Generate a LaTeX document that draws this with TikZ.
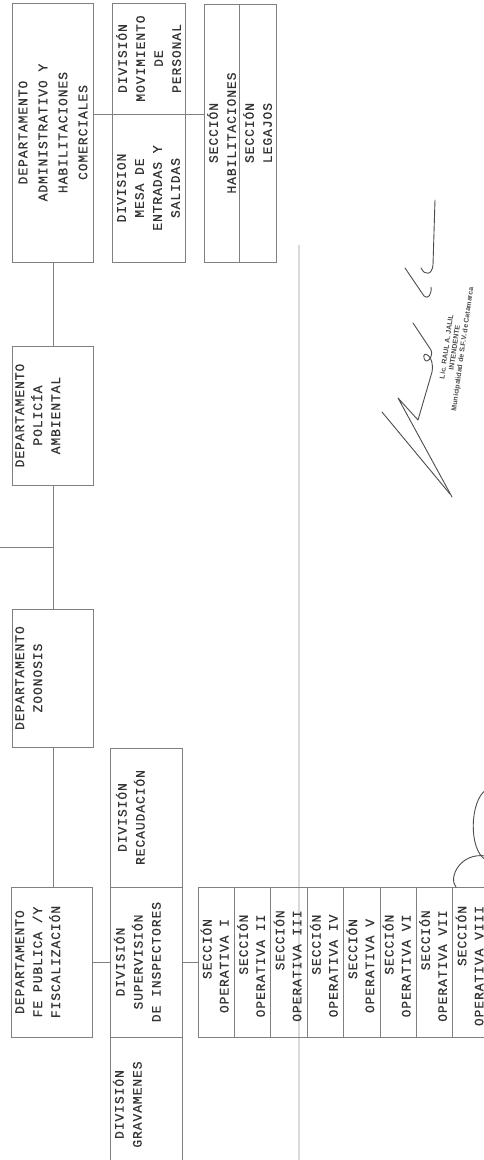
\documentclass[tikz,border=0pt]{standalone}
\usepackage{fontspec}
\newfontfamily\typewriter{Liberation Mono}[LetterSpace=7, FakeBold=0.5]
\newfontfamily\stampfont{Liberation Sans}

\begin{document}
\begin{tikzpicture}[
    x=1pt, y=1pt,
    unit/.style={
        rectangle,
        draw=black!50,
        line width=0.7pt,
        inner sep=0pt
    },
    boxtext/.style={
        rotate=90,
        align=center,
        inner sep=0pt,
        text=black!80,
        font=\typewriter\fontsize{13}{18}\selectfont
    },
    link/.style={draw=black!50, line width=0.7pt},
    rule/.style={draw=black!15, line width=1.3pt},
    sign/.style={draw=black!70, line width=0.9pt, line cap=round, line join=round}
]

\useasboundingbox (0,0) rectangle (484,-1160);
\clip (0,0) rectangle (484,-1160);

% Margen
\coordinate (ruletop) at (299,-245);
\draw[rule] (ruletop) -- (ruletop |- 0,-1160);

% Departamentos
\node[unit, minimum width=81pt, minimum height=259pt] (adm) at (53,-132.5) {};
\node[unit, minimum width=81pt, minimum height=139pt] (pol) at (53,-415.5) {};
\node[unit, minimum width=81pt, minimum height=138pt] (zoo) at (53,-678) {};
\node[unit, minimum width=81pt, minimum height=150pt] (fe) at (52,-962) {};

\node[boxtext, font=\typewriter\fontsize{13}{20}\selectfont] (admtxt) at (adm.center)
    {DEPARTAMENTO\\ADMINISTRATIVO Y\\HABILITACIONES\\COMERCIALES};
\node[boxtext, anchor=north] (poltxt) at ([xshift=3pt]pol.west) {DEPARTAMENTO\\POLICÍA\\AMBIENTAL};
\node[boxtext, anchor=north] (zootxt) at ([xshift=3pt]zoo.west) {DEPARTAMENTO\\ZOONOSIS};
\node[boxtext, anchor=north] (fetxt) at ([xshift=4pt]fe.west) {DEPARTAMENTO\\FE PUBLICA /Y\\FISCALIZACIÓN};

% Divisiones bajo administrativo
\node[unit, minimum width=73pt, minimum height=111pt] (mov) at (148.5,-58.5) {};
\node[unit, minimum width=73pt, minimum height=148pt] (mesa) at (148.5,-188) {};
\node[boxtext] (movtxt) at (mov.center) {DIVISIÓN\\MOVIMIENTO\\DE\\PERSONAL};
\node[boxtext] (mesatxt) at (mesa.center) {DIVISION\\MESA DE\\ENTRADAS Y\\SALIDAS};

% Secciones
\node[unit, minimum width=35pt, minimum height=258pt] (hab) at (221.5,-133) {};
\node[unit, minimum width=37pt, minimum height=258pt] (leg) at (257.5,-133) {};
\node[boxtext] (habtxt) at (hab.center) {SECCIÓN\\HABILITACIONES};
\node[boxtext] (legtxt) at (leg.center) {SECCIÓN\\LEGAJOS};

% Divisiones bajo fe publica
\node[unit, minimum width=72pt, minimum height=139pt] (rec) at (146,-817.5) {};
\node[unit, minimum width=72pt, minimum height=150pt] (sup) at (146,-962) {};
\node[unit, minimum width=72pt, minimum height=135pt] (grav) at (146,-1104.5) {};
\node[boxtext, anchor=north] (rectxt) at ([xshift=6pt]rec.west) {DIVISIÓN\\RECAUDACIÓN};
\node[boxtext, anchor=north] (suptxt) at ([xshift=4pt]sup.west) {DIVISIÓN\\SUPERVISIÓN\\DE INSPECTORES};
\node[boxtext, anchor=north] (gravtxt) at ([xshift=3pt]grav.west) {DIVISIÓN\\GRAVAMENES};

% Secciones operativas
\foreach \n/\r in {1/I,2/II,3/III,4/IV,5/V,6/VI,7/VII,8/VIII} {
    \node[unit, minimum width=36.4pt, minimum height=150pt] (op\n) at ({198+36.4*(\n-0.5)},-962) {};
    \node[boxtext, align=right, font=\typewriter\fontsize{13}{17}\selectfont] (op\n txt)
        at ([xshift=-1.5pt, yshift=-4pt]op\n.center) {SECCIÓN\\OPERATIVA \r};
}

% Conectores
\coordinate (edge) at (0,-547);
\draw[link] (adm.south) -- (pol.north);
\draw[link] (pol.south) -- (zoo.north);
\draw[link] (zoo.south) -- (zoo.south |- fe.north);
\draw[link] (edge) -- (edge -| pol.south);
\draw[link] (adm.east |- mov.south) -- (hab.west |- mov.south);
\draw[link] (fe.east) -- (sup.west);
\draw[link] (sup.east) -- (op1.west);

% Firmas
\draw[sign] (435,-200) -- (433,-265) .. controls (432,-275) and (425,-276) .. (421,-268);
\draw[sign] (405,-268) -- (424,-296) .. controls (428,-300) and (432,-294) .. (431,-287);
\draw[sign] (413,-323) -- (431,-350) .. controls (434,-356) and (426,-366) .. (424,-358)
    .. controls (422,-350) and (435,-355) .. (432,-372) -- (418,-420) -- (398,-398) -- (452,-497);
\draw[sign] (382,-412) -- (450,-494);
\node[rotate=82, font=\stampfont\bfseries\fontsize{7}{8}\selectfont, text=black!70, align=center] (stamp)
    at (455,-348) {Lic. RAUL A. JALIL\\INTENDENTE\\Municipalidad de S.F.V. de Catamarca};
\draw[sign] (486,-790) .. controls (470,-800) and (468,-850) .. (486,-860);
\draw[sign] (486,-856) .. controls (460,-852) and (448,-878) .. (456,-887);

\end{tikzpicture}
\end{document}
